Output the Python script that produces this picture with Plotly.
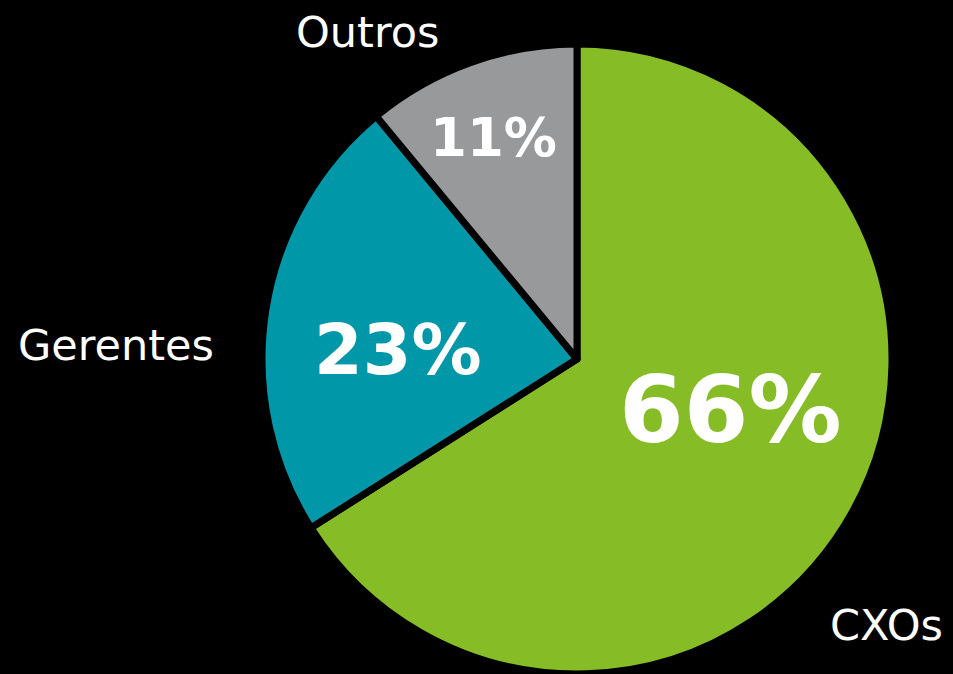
import plotly.graph_objects as go

categories = ["CXOs", "Gerentes", "Outros"]
values = [66, 23, 11]
colors = ["#86BC25", "#0097A9", "#97999B"]
pct_labels = [f"{v}%" for v in values]
text_sizes = [93, 70, 53]

W, H = 953, 674
fig = go.Figure(go.Pie(
    labels=categories,
    values=values,
    sort=False,
    direction="clockwise",
    rotation=0,
    marker=dict(colors=colors, line=dict(color="black", width=7)),
    textinfo="none",
    domain=dict(x=[262 / W, 892 / W], y=[0, 1 - 44 / H]),
    showlegend=False,
    hoverinfo="label+percent",
))

pct_pos = [(730, 410), (398, 350), (494, 138)]
for txt, size, (px, py) in zip(pct_labels, text_sizes, pct_pos):
    fig.add_annotation(
        text=f"<b>{txt}</b>", x=px / W, y=1 - py / H, xref="paper", yref="paper",
        xanchor="center", yanchor="middle", showarrow=False,
        font=dict(family="DejaVu Sans", size=size, color="white"),
    )

label_pos = {
    "Outros": (367, 32, "center"),
    "Gerentes": (116, 345, "center"),
    "CXOs": (945, 625, "right"),
}
for cat in categories:
    px, py, anchor = label_pos[cat]
    fig.add_annotation(
        text=cat, x=px / W, y=1 - py / H, xref="paper", yref="paper",
        xanchor=anchor, yanchor="middle", showarrow=False,
        font=dict(family="DejaVu Sans", size=43, color="white"),
    )

fig.update_layout(
    width=W, height=H,
    margin=dict(l=0, r=0, t=0, b=0),
    paper_bgcolor="black", plot_bgcolor="black",
)
fig.write_html(
    "out.html",
    config={"displayModeBar": False},
    post_script="document.body.style.margin='0';document.body.style.background='black';document.body.style.overflow='hidden';",
)
